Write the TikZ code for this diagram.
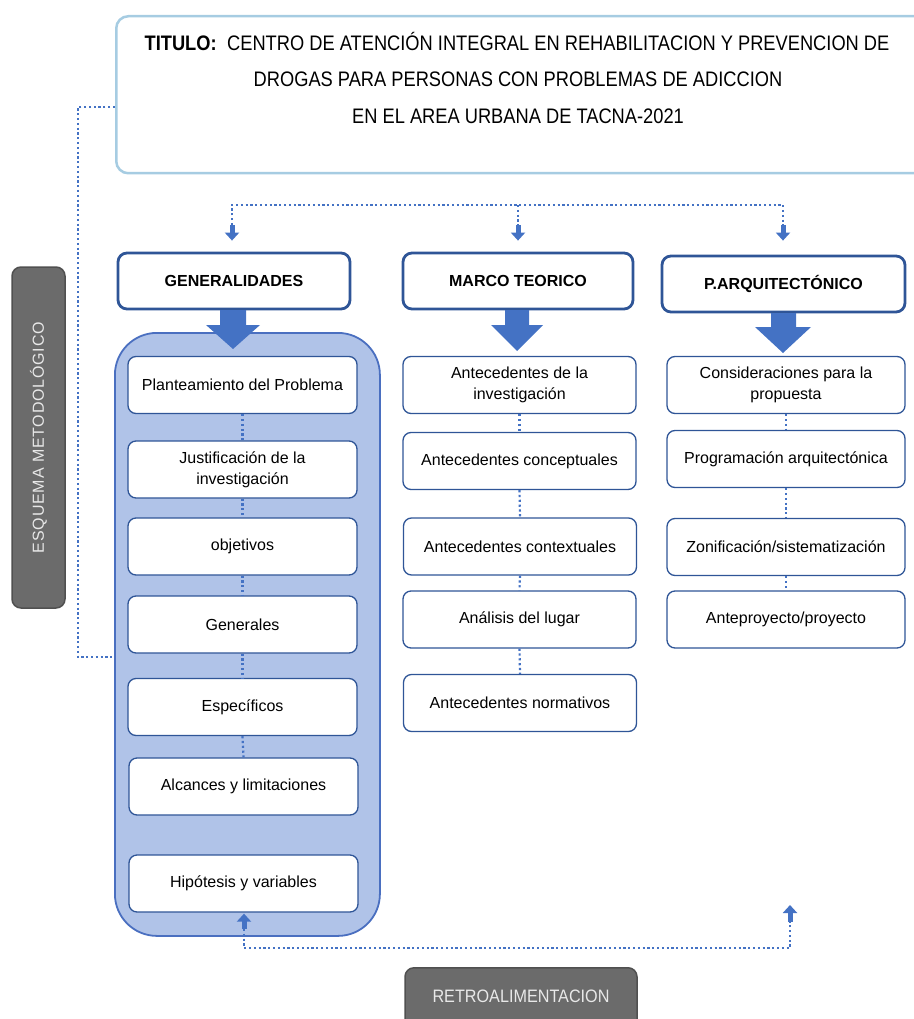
\documentclass[tikz,border=0pt]{standalone}
\usepackage{fontspec}
\setmainfont{Liberation Sans}
\newfontfamily\narrowfont{Liberation Sans}[FakeStretch=0.87]
\newfontfamily\retrofont{Liberation Sans}[FakeStretch=0.90]
\newfontfamily\spacedfont{Liberation Sans}[LetterSpace=5]
\usetikzlibrary{arrows.meta,calc}
\definecolor{dblue}{HTML}{2F5597}
\definecolor{mblue}{HTML}{4472C4}
\definecolor{lblue}{HTML}{B0C3E8}
\definecolor{cborder}{HTML}{4A6FC0}
\definecolor{tborder}{HTML}{A6CCE2}
\definecolor{gbox}{HTML}{6B6B6B}
\definecolor{gborder}{HTML}{505050}
\definecolor{gtext}{HTML}{E8E8E8}
\begin{document}
\begin{tikzpicture}[x=1pt,y=-1pt,
  item/.style={draw=dblue, line width=1.3pt, fill=white, rounded corners=8pt,
    minimum height=57pt, align=center, inner sep=2pt,
    font=\fontsize{16}{21}\selectfont},
  litem/.style={item, minimum width=229pt},
  mitem/.style={item, minimum width=233pt},
  ritem/.style={item, minimum width=238pt},
  hdr/.style={draw=dblue, line width=2.8pt, fill=white, rounded corners=9pt,
    minimum height=56pt, font=\bfseries\fontsize{16}{19}\selectfont},
  dotline/.style={draw=mblue, line width=2.2pt, dash pattern=on 2.2pt off 2.6pt},
  minihead/.style={draw=mblue, line width=5pt, -{Triangle[width=14pt,length=8pt]}, fill=mblue},
  grey/.style={draw=gborder, line width=1.5pt, fill=gbox, rounded corners=9pt, text=gtext}
]
\useasboundingbox (0,0) rectangle (913,1019);

% title
\node[draw=tborder, line width=2.5pt, rounded corners=12pt, fill=white,
      minimum width=810pt, minimum height=157pt, anchor=north west] (title) at (115,15) {};
\node[font=\narrowfont\fontsize{21}{24}\selectfont] (t1) at (517,41)
  {\textbf{TITULO:}\enspace CENTRO DE ATENCIÓN INTEGRAL EN REHABILITACION Y PREVENCION DE};
\node[font=\narrowfont\fontsize{21}{24}\selectfont] (t2) at (518,79)
  {DROGAS PARA PERSONAS CON PROBLEMAS DE ADICCION};
\node[font=\narrowfont\fontsize{21}{24}\selectfont] (t3) at (518,116)
  {EN EL AREA URBANA DE TACNA-2021};

% side label
\node[grey, minimum width=53pt, minimum height=341pt] (esq) at (38.5,437.5) {};
\node[rotate=90, text=gtext, font=\spacedfont\fontsize{16}{18}\selectfont] (esqt) at (38.5,437.5) {ESQUEMA METODOLÓGICO};

% headers
\node[hdr, minimum width=232pt] (h1) at (234,281) {GENERALIDADES};
\node[hdr, minimum width=230pt] (h2) at (518,281) {MARCO TEORICO};
\node[hdr, minimum width=243pt] (h3) at (783.5,284) {P.ARQUITECTÓNICO};

% container
\node[draw=cborder, line width=1.8pt, fill=lblue, rounded corners=42pt,
      minimum width=265pt, minimum height=603pt, anchor=north west] (cont) at (114,332) {};

% block arrows
\fill[mblue] (220,310) -- (246,310) -- (246,325) -- (260,325) -- (233,349) -- (206,325) -- (220,325) -- cycle;
\fill[mblue] (505,310) -- (529,310) -- (529,325) -- (543,325) -- (517,351) -- (491,325) -- (505,325) -- cycle;
\fill[mblue] (771,313) -- (796,313) -- (796,327) -- (811,327) -- (783,353) -- (755,327) -- (771,327) -- cycle;

% left column
\node[litem] (l1) at (242.5,385) {Planteamiento del Problema};
\node[litem] (l2) at (242.5,469.5) {Justificación de la\\investigación};
\node[litem] (l3) at (242.5,546.5) {objetivos};
\node[litem] (l4) at (242.5,624.5) {Generales};
\node[litem] (l5) at (242.5,707) {Específicos};
\node[litem] (l6) at (243.5,786.5) {Alcances y limitaciones};
\node[litem] (l7) at (243.5,883.5) {Hipótesis y variables};

% middle column
\node[mitem] (m1) at (519.5,385) {Antecedentes de la\\investigación};
\node[mitem] (m2) at (519.5,461) {Antecedentes conceptuales};
\node[mitem] (m3) at (520,546.5) {Antecedentes contextuales};
\node[mitem] (m4) at (519.5,619.5) {Análisis del lugar};
\node[mitem] (m5) at (520,703) {Antecedentes normativos};

% right column
\node[ritem] (r1) at (786,385) {Consideraciones para la\\propuesta};
\node[ritem] (r2) at (786,459) {Programación arquitectónica};
\node[ritem] (r3) at (786,547) {Zonificación/sistematización};
\node[ritem] (r4) at (786,619.5) {Anteproyecto/proyecto};

% dotted links between items
\foreach \a/\b in {l1/l2,l2/l3,l3/l4,l4/l5,l5/l6,m1/m2,m2/m3,m3/m4,m4/m5,r1/r2,r2/r3,r3/r4}
  \draw[dotline] (\a.south) -- (\b.north);

% left loop from title to container
\coordinate (tl) at (title.west |- 0,107);
\coordinate (cl) at (cont.west |- 0,657);
\draw[dotline] (tl) -- (78,107) -- (78,657) -- (cl);

% top distribution bracket
\coordinate (b1) at (232,205);
\coordinate (b3) at (783,205);
\coordinate (a1) at (232,225);
\coordinate (a2) at (518,225);
\coordinate (a3) at (783,225);
\draw[dotline] (a1) -- (b1) -- (b3) -- (a3);
\draw[dotline] (518,205) -- (a2);
\draw[minihead] (a1) -- ($(h1.north -| a1)+(0,-11)$);
\draw[minihead] (a2) -- ($(h2.north -| a2)+(0,-11)$);
\draw[minihead] (a3) -- ($(h3.north -| a3)+(0,-14)$);

% bottom feedback
\coordinate (f1) at (244,948);
\coordinate (f2) at (790,948);
\coordinate (u1) at (244,929);
\coordinate (u2) at (790,922);
\draw[dotline] (u1) -- (f1) -- (f2) -- (u2);
\draw[minihead] (u1) -- ($(l7.south -| u1)+(0,1)$);
\draw[minihead] (u2) -- (790,905);

% retroalimentacion
\node[grey, minimum width=232pt, minimum height=70pt, anchor=north] (retro) at (521,967) {};
\node[text=gtext, font=\retrofont\fontsize{18}{20}\selectfont] (retrot) at (521,996) {RETROALIMENTACION};
\end{tikzpicture}
\end{document}
